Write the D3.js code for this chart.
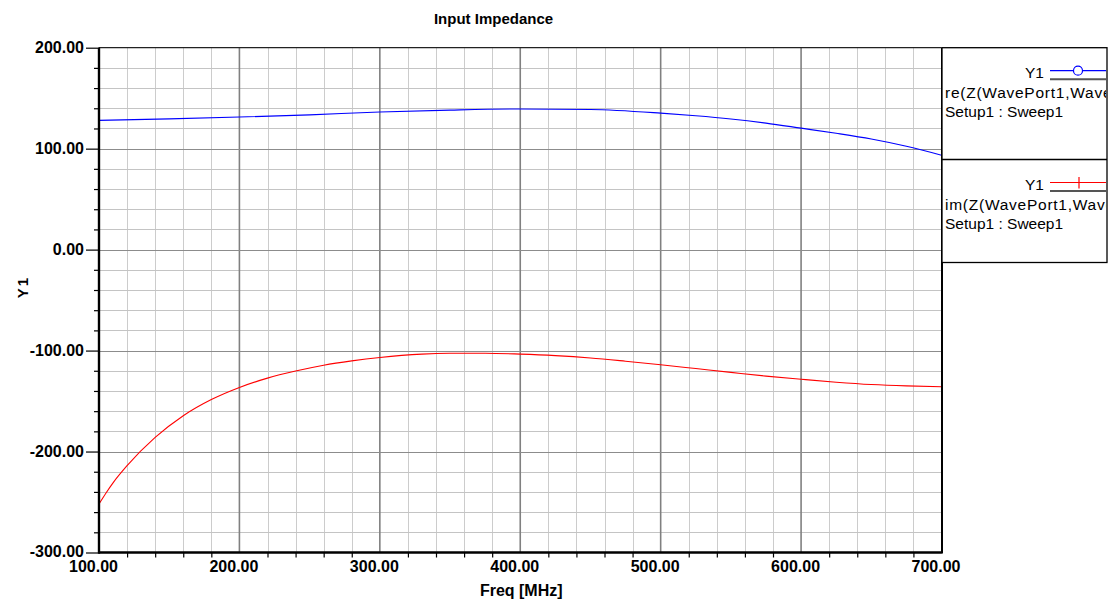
<!DOCTYPE html>
<html>
<head>
<meta charset="utf-8">
<script src="https://cdn.jsdelivr.net/npm/d3@7"></script>
<style>
  html, body { margin: 0; padding: 0; background: #ffffff; }
  svg { display: block; }
  text { font-family: "Liberation Sans", Arial, sans-serif; }
</style>
</head>
<body>
<svg id="chart" width="1112" height="604"></svg>
<script>
// ---- data ----
const freqRe = [100, 150, 200, 250, 300, 350, 400, 450, 500, 525, 550, 575, 600, 625, 650, 675, 700];
const reZ    = [128, 129.5, 131.3, 133.5, 136.3, 138.2, 139.3, 138.8, 135.2, 132.6, 129.4, 125.3, 120.3, 115.2, 109.5, 102.3, 93.5];

const freqIm = [100, 105, 110, 120, 140, 160, 180, 200, 220, 240, 260, 280, 300, 330, 350, 375, 400, 425, 450, 475, 500, 525, 550, 575, 600, 625, 650, 675, 700];
const imZ    = [-252, -241, -231, -214, -186, -164.5, -148.5, -136.5, -127.3, -120.3, -114.5, -110.2, -106.8, -103.5, -102.7, -102.6, -103.5, -105, -107.3, -110.5, -114, -117.8, -121.6, -125.3, -128.4, -131.3, -133.6, -135, -135.8];

const xTickValues = [100, 200, 300, 400, 500, 600, 700];
const xTickLabels = ["100.00", "200.00", "300.00", "400.00", "500.00", "600.00", "700.00"];
const yTickValues = [200, 100, 0, -100, -200, -300];
const yTickLabels = ["200.00", "100.00", "0.00", "-100.00", "-200.00", "-300.00"];

const title = "Input Impedance";
const xTitle = "Freq [MHz]";
const yTitle = "Y1";
const legendNames = [
  ["Y1", "re(Z(WavePort1,WavePort1))", "Setup1 : Sweep1"],
  ["Y1", "im(Z(WavePort1,WavePort1))", "Setup1 : Sweep1"]
];
const seriesColors = ["#0000ff", "#ff0000"];

// ---- layout ----
const svg = d3.select("#chart");
const L = 99, R = 941.5, T = 47.7, B = 552.5;
const x = d3.scaleLinear().domain([100, 700]).range([L, R]);
const y = d3.scaleLinear().domain([-300, 200]).range([B, T]);

const minorX = d3.range(100, 701, 20).filter(v => v % 100 !== 0);
const minorY = d3.range(-300, 201, 20).filter(v => v % 100 !== 0);

// grid
const grid = svg.append("g");
grid.selectAll(".vmin").data(minorX).join("line")
  .attr("x1", d => Math.round(x(d)) + 0.5).attr("x2", d => Math.round(x(d)) + 0.5)
  .attr("y1", T).attr("y2", B).attr("stroke", "#cccccc").attr("stroke-width", 1);
grid.selectAll(".hmin").data(minorY).join("line")
  .attr("y1", d => Math.round(y(d)) + 0.5).attr("y2", d => Math.round(y(d)) + 0.5)
  .attr("x1", L).attr("x2", R).attr("stroke", "#c4c4c4").attr("stroke-width", 1);
grid.selectAll(".vmaj").data(xTickValues.slice(1, -1)).join("line")
  .attr("x1", d => x(d)).attr("x2", d => x(d))
  .attr("y1", T).attr("y2", B).attr("stroke", "#808080").attr("stroke-width", 1.6);
grid.selectAll(".hmaj").data(yTickValues.slice(1, -1)).join("line")
  .attr("y1", d => Math.round(y(d)) + 0.5).attr("y2", d => Math.round(y(d)) + 0.5)
  .attr("x1", L).attr("x2", R).attr("stroke", "#8c8c8c").attr("stroke-width", 1.2);

// top border
svg.append("line").attr("x1", L).attr("x2", R).attr("y1", T).attr("y2", T)
  .attr("stroke", "#222").attr("stroke-width", 1.2);

// curves
svg.append("clipPath").attr("id", "plotclip").append("rect")
  .attr("x", L).attr("y", T).attr("width", R - L).attr("height", B - T);
const line = d3.line().x(d => x(d[0])).y(d => y(d[1])).curve(d3.curveMonotoneX);
const curves = svg.append("g").attr("clip-path", "url(#plotclip)");
curves.append("path").datum(d3.zip(freqRe, reZ)).attr("d", line)
  .attr("fill", "none").attr("stroke", seriesColors[0]).attr("stroke-width", 1.1);
curves.append("path").datum(d3.zip(freqIm, imZ)).attr("d", line)
  .attr("fill", "none").attr("stroke", seriesColors[1]).attr("stroke-width", 1.1);

// axes
const fontTick = "bold 16px 'Liberation Sans', Arial, sans-serif";
const yMajor = svg.append("g").attr("transform", `translate(${L},0)`)
  .call(d3.axisLeft(y).tickValues(yTickValues).tickSize(13).tickPadding(2)
        .tickFormat((d, i) => yTickLabels[i]));
const yMinor = svg.append("g").attr("transform", `translate(${L},0)`)
  .call(d3.axisLeft(y).tickValues(minorY).tickSize(5).tickFormat(""));
const xMajor = svg.append("g").attr("transform", `translate(0,${B})`)
  .call(d3.axisBottom(x).tickValues(xTickValues).tickSize(0).tickPadding(8)
        .tickFormat((d, i) => xTickLabels[i]));
const xMinor = svg.append("g").attr("transform", `translate(0,${B})`)
  .call(d3.axisBottom(x).tickValues(minorX).tickSize(5).tickFormat(""));

[yMajor, yMinor, xMajor, xMinor].forEach(g => {
  g.selectAll(".domain").attr("stroke", "#000").attr("stroke-width", 2.2);
  g.selectAll(".tick line").attr("stroke", "#000").attr("stroke-width", 1.2);
  g.selectAll("text").style("font", fontTick).attr("fill", "#000");
});
yMajor.selectAll("text").attr("dy", "0.28em");
xMajor.selectAll("text").attr("dx", -6);
xMinor.select(".domain").attr("d", `M${L},0H${R}`);
xMajor.select(".domain").attr("d", `M${L},0H${R}`);
yMajor.select(".domain").attr("d", `M0,${T}V${B + 1}`);
yMinor.select(".domain").attr("d", `M0,${T}V${B + 1}`);

// right plot border
svg.append("line").attr("x1", R + 0.5).attr("x2", R + 0.5).attr("y1", T).attr("y2", B + 1)
  .attr("stroke", "#000").attr("stroke-width", 2);

// titles
svg.append("text").attr("x", 493.5).attr("y", 24).attr("text-anchor", "middle")
  .style("font", "bold 15px 'Liberation Sans', Arial, sans-serif").text(title);
svg.append("text").attr("x", (L + R) / 2 + 1).attr("y", 596).attr("text-anchor", "middle")
  .style("font", "bold 16px 'Liberation Sans', Arial, sans-serif").text(xTitle);
svg.append("text").attr("transform", "translate(28,287) rotate(-90)").attr("text-anchor", "middle")
  .attr("letter-spacing", "2px")
  .style("font", "bold 15px 'Liberation Sans', Arial, sans-serif").text(yTitle);

// legend
const LX0 = 942, LX1 = 1107, LY0 = T, LY1 = 262.5, LYM = 159.5;
svg.append("clipPath").attr("id", "legclip").append("rect")
  .attr("x", LX0).attr("y", LY0).attr("width", LX1 - LX0 - 1).attr("height", LY1 - LY0);
const leg = svg.append("g");
leg.append("rect").attr("x", LX0).attr("y", LY0).attr("width", LX1 - LX0).attr("height", LY1 - LY0)
  .attr("fill", "#ffffff").attr("stroke", "#000").attr("stroke-width", 1.3);
leg.append("line").attr("x1", LX0).attr("x2", LX1).attr("y1", LYM).attr("y2", LYM)
  .attr("stroke", "#000").attr("stroke-width", 1.3);

const legFont = "15.5px 'Liberation Sans', Arial, sans-serif";
const entryTop = [LY0, LYM];
legendNames.forEach((names, i) => {
  const t = entryTop[i];
  const g = leg.append("g").attr("clip-path", "url(#legclip)");
  const ly = t + 23;
  g.append("text").attr("x", 1044).attr("y", t + 30).attr("text-anchor", "end")
    .style("font", legFont).text(names[0]);
  g.append("line").attr("x1", 1050).attr("x2", LX1).attr("y1", ly).attr("y2", ly)
    .attr("stroke", seriesColors[i]).attr("stroke-width", 1.2);
  g.append("line").attr("x1", 1050).attr("x2", LX1).attr("y1", ly + 8.5).attr("y2", ly + 8.5)
    .attr("stroke", "#555").attr("stroke-width", 2);
  if (i === 0) {
    g.append("circle").attr("cx", 1078).attr("cy", ly).attr("r", 4.5)
      .attr("fill", "#fff").attr("stroke", seriesColors[i]).attr("stroke-width", 1.2);
  } else {
    g.append("line").attr("x1", 1079).attr("x2", 1079).attr("y1", ly - 5.5).attr("y2", ly + 6)
      .attr("stroke", seriesColors[i]).attr("stroke-width", 1.2);
  }
  g.append("text").attr("x", 945).attr("y", t + 50.5).attr("letter-spacing", "0.75px")
    .style("font", legFont).text(names[1]);
  g.append("text").attr("x", 945).attr("y", t + 69.5).style("font", legFont).text(names[2]);
});
</script>
</body>
</html>
